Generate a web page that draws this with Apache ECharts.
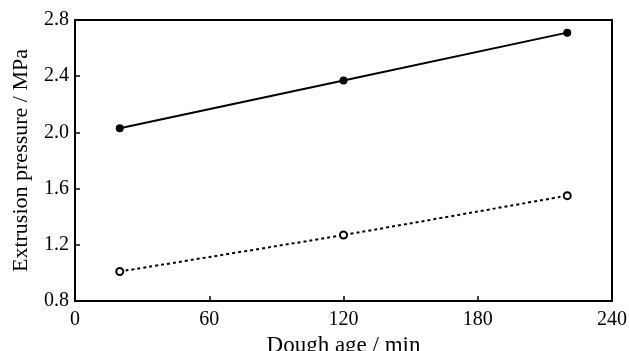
<!DOCTYPE html>
<html><head><meta charset="utf-8">
<script src="https://cdn.jsdelivr.net/npm/echarts@6/dist/echarts.min.js"></script>
<style>html,body{margin:0;padding:0;background:#fff}#c{width:629px;height:351px}</style>
</head><body><div id="c"></div>
<script>
const ages = [20, 120, 220];
const solidSeries = [2.03, 2.37, 2.71];
const dashedSeries = [1.01, 1.27, 1.55];
const xTicks = [0, 60, 120, 180, 240];
const yTicks = [0.8, 1.2, 1.6, 2.0, 2.4, 2.8];

const font = 'Liberation Serif';
const chart = echarts.init(document.getElementById('c'));
const axisBase = {
  axisLine: {show: true, onZero: false, lineStyle: {color: '#000', width: 2}},
  axisTick: {show: true, inside: true, length: 5, lineStyle: {color: '#000', width: 1.5}},
  splitLine: {show: false},
  axisLabel: {color: '#000', fontFamily: font, fontSize: 20}
};
chart.setOption({
  animation: false,
  grid: {left: 75, top: 20, right: 17, bottom: 50, show: true, borderColor: '#000', borderWidth: 2,
         containLabel: false, outerBoundsMode: 'none'},
  xAxis: Object.assign({}, axisBase, {
    type: 'value', min: xTicks[0], max: xTicks[xTicks.length-1], interval: 60,
    name: 'Dough age / min', nameLocation: 'middle', nameGap: 32,
    nameTextStyle: {color: '#000', fontFamily: font, fontSize: 23},
    axisLabel: Object.assign({}, axisBase.axisLabel, {margin: 9})
  }),
  yAxis: Object.assign({}, axisBase, {
    type: 'value', min: yTicks[0], max: yTicks[yTicks.length-1], interval: 0.4,
    name: 'Extrusion pressure / MPa', nameLocation: 'middle', nameGap: 43,
    nameTextStyle: {color: '#000', fontFamily: font, fontSize: 22},
    axisLabel: Object.assign({}, axisBase.axisLabel, {margin: 6, formatter: v => v.toFixed(1)})
  }),
  series: [
    {type: 'line', data: ages.map((a,i)=>[a, solidSeries[i]]), symbol: 'circle', symbolSize: 8,
     itemStyle: {color: '#000'}, lineStyle: {color: '#000', width: 2}},
    {type: 'line', data: ages.map((a,i)=>[a, dashedSeries[i]]), symbol: 'circle', symbolSize: 7,
     smooth: 0.3,
     itemStyle: {color: '#fff', borderColor: '#000', borderWidth: 2}, lineStyle: {color: '#000', width: 2, type: [3, 3]}}
  ]
});
</script></body></html>
